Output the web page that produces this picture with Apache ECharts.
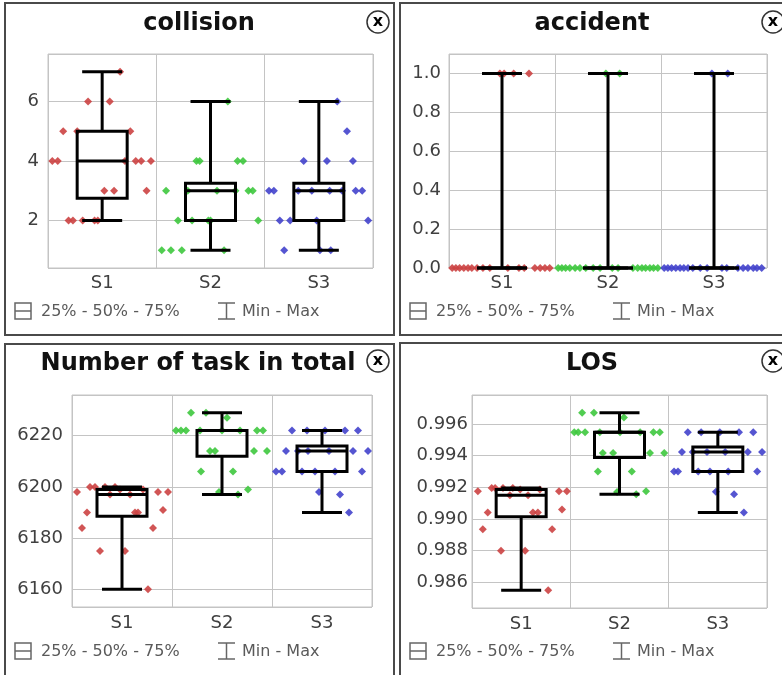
<!DOCTYPE html>
<html>
<head>
<meta charset="utf-8">
<title>Box plots</title>
<script src="https://cdn.jsdelivr.net/npm/echarts@6.0.0/dist/echarts.min.js"></script>
<style>
  html, body { margin: 0; padding: 0; background: #fff; }
  #main { width: 782px; height: 675px; }
</style>
</head>
<body>
<div id="main"></div>
<script>
const categories = ["S1", "S2", "S3"];
const colors = ["#cc4343", "#3ec83e", "#4343cc"];

// values of each run, and where the dot sits inside its column (0..1)
const collisionS1 = [7, 6, 6, 5, 5, 5, 4, 4, 4, 4, 4, 4, 3, 3, 3, 2, 2, 2, 2, 2];
const collisionS1X = [.665, .37, .57, .14, .27, .76, .04, .09, .71, .81, .86, .95, .52, .61, .91, .19, .23, .32, .43, .46];
const collisionS2 = [6, 4, 4, 4, 4, 3, 3, 3, 3, 3, 3, 2, 2, 2, 2, 2, 1, 1, 1, 1];
const collisionS2X = [.66, .37, .40, .75, .80, .09, .29, .56, .73, .85, .89, .20, .33, .48, .50, .94, .05, .135, .235, .625];
const collisionS3 = [6, 5, 4, 4, 4, 3, 3, 3, 3, 3, 3, 3, 3, 2, 2, 2, 2, 1, 1, 1];
const collisionS3X = [.67, .76, .36, .575, .815, .04, .085, .31, .435, .60, .715, .84, .90, .14, .235, .48, .955, .18, .51, .61];

const accidentS1 = [1, 1, 1, 1, 0, 0, 0, 0, 0, 0, 0, 0, 0, 0, 0, 0, 0, 0, 0, 0];
const accidentS1X = [.48, .52, .61, .755, .03, .065, .10, .14, .18, .215, .265, .32, .385, .555, .66, .71, .81, .86, .905, .95];
const accidentS2 = [1, 1, 0, 0, 0, 0, 0, 0, 0, 0, 0, 0, 0, 0, 0, 0, 0, 0, 0, 0];
const accidentS2X = [.48, .61, .03, .065, .10, .14, .19, .235, .29, .36, .425, .54, .595, .735, .78, .82, .855, .895, .93, .97];
const accidentS3 = [1, 1, 0, 0, 0, 0, 0, 0, 0, 0, 0, 0, 0, 0, 0, 0, 0, 0, 0, 0];
const accidentS3X = [.48, .63, .03, .065, .10, .14, .18, .215, .255, .30, .37, .435, .575, .62, .725, .775, .82, .87, .905, .95];

const tasksS1 = [6200, 6200, 6200, 6200, 6199, 6199, 6198, 6198, 6198, 6197, 6197, 6191, 6190, 6190, 6190, 6184, 6184, 6175, 6175, 6160];
const tasksS1X = [.18, .23, .33, .43, .48, .71, .05, .86, .96, .38, .58, .91, .15, .63, .66, .10, .81, .28, .53, .76];
const tasksS2 = [6229, 6229, 6227, 6222, 6222, 6222, 6222, 6222, 6222, 6222, 6222, 6214, 6214, 6214, 6214, 6206, 6206, 6199, 6198, 6197];
const tasksS2X = [.19, .34, .55, .04, .09, .14, .85, .91, .28, .50, .68, .38, .43, .82, .95, .29, .61, .76, .47, .66];
const tasksS3 = [6222, 6222, 6222, 6222, 6222, 6214, 6214, 6214, 6214, 6214, 6214, 6206, 6206, 6206, 6206, 6206, 6206, 6198, 6197, 6190];
const tasksS3X = [.20, .35, .53, .73, .86, .14, .26, .36, .57, .81, .96, .04, .10, .30, .43, .63, .90, .47, .68, .77];

const losS1 = [.99195, .99195, .99195, .99195, .99185, .99185, .99175, .99175, .99175, .9915, .9915, .9906, .9904, .9904, .9904, .98935, .98935, .988, .988, .9855];
const losS1X = [.20, .235, .315, .415, .49, .69, .06, .885, .965, .385, .57, .915, .16, .62, .67, .11, .815, .295, .54, .775];
const losS2 = [.9967, .9967, .9964, .99547, .99547, .99547, .99547, .99547, .99547, .99547, .99547, .99416, .99416, .99416, .99416, .993, .993, .99175, .9917, .99155];
const losS2X = [.12, .24, .545, .04, .08, .15, .845, .91, .30, .505, .71, .33, .435, .81, .955, .28, .625, .77, .475, .67];
const losS3 = [.99547, .99547, .99547, .99547, .99547, .99422, .99422, .99422, .99422, .99422, .99422, .993, .993, .993, .993, .993, .993, .99172, .99155, .9904];
const losS3X = [.195, .33, .52, .715, .86, .135, .245, .39, .575, .805, .95, .055, .095, .30, .42, .605, .90, .48, .665, .765];

const panels = [
  { title: "collision", groups: [[collisionS1, collisionS1X], [collisionS2, collisionS2X], [collisionS3, collisionS3X]], step: 2, dec: 0, split: 4 },
  { title: "accident", groups: [[accidentS1, accidentS1X], [accidentS2, accidentS2X], [accidentS3, accidentS3X]], step: 0.2, dec: 1, split: 5 },
  { title: "Number of task in total", groups: [[tasksS1, tasksS1X], [tasksS2, tasksS2X], [tasksS3, tasksS3X]], step: 20, dec: 0, split: 4 },
  { title: "LOS", groups: [[losS1, losS1X], [losS2, losS2X], [losS3, losS3X]], step: 0.002, dec: 3, split: 6 }
];

// where each panel sits on the page
const layout = [
  { ox: 0, oy: 0, grid: { left: 48, top: 54, width: 325, height: 214 }, yMargin: 9, xMargin: 6, titleX: 199, titleY: 24, frame: [5, 3, 389, 332] },
  { ox: 395, oy: 0, grid: { left: 449, top: 54, width: 318, height: 214 }, yMargin: 8, xMargin: 6, titleX: 592, titleY: 24, frame: [400, 3, 400, 332] },
  { ox: 0, oy: 340, grid: { left: 72, top: 395, width: 300, height: 212 }, yMargin: 9, xMargin: 7, titleX: 198, titleY: 364, frame: [5, 344, 389, 340] },
  { ox: 395, oy: 340, grid: { left: 472, top: 395, width: 295, height: 213 }, yMargin: 4, xMargin: 7, titleX: 592, titleY: 364, frame: [400, 343, 400, 340] }
];

const FONT = "DejaVu Sans";

function quantile(sorted, p) {
  const pos = (sorted.length - 1) * p;
  const lo = Math.floor(pos), hi = Math.ceil(pos);
  return sorted[lo] + (sorted[hi] - sorted[lo]) * (pos - lo);
}

function boxStats(values) {
  const s = values.slice().sort((a, b) => a - b);
  return [s[0], quantile(s, 0.25), quantile(s, 0.5), quantile(s, 0.75), s[s.length - 1]];
}

function renderBox(params, api) {
  const c = api.value(0);
  const pMin = api.coord([c, api.value(1)]);
  const pQ1 = api.coord([c, api.value(2)]);
  const pMed = api.coord([c, api.value(3)]);
  const pQ3 = api.coord([c, api.value(4)]);
  const pMax = api.coord([c, api.value(5)]);
  const x = pMed[0];
  const bw = 25, cw = 20;
  const style = { stroke: "#000", lineWidth: 3, fill: "transparent" };
  return {
    type: "group",
    children: [
      { type: "line", shape: { x1: x, y1: pMax[1], x2: x, y2: pQ3[1] }, style },
      { type: "line", shape: { x1: x, y1: pQ1[1], x2: x, y2: pMin[1] }, style },
      { type: "line", shape: { x1: x - cw, y1: pMax[1], x2: x + cw, y2: pMax[1] }, style },
      { type: "line", shape: { x1: x - cw, y1: pMin[1], x2: x + cw, y2: pMin[1] }, style },
      { type: "rect", shape: { x: x - bw, y: pQ3[1], width: bw * 2, height: pQ1[1] - pQ3[1] }, style },
      { type: "line", shape: { x1: x - bw, y1: pMed[1], x2: x + bw, y2: pMed[1] }, style }
    ]
  };
}

const grid = [], xAxis = [], yAxis = [], series = [], graphic = [];

panels.forEach((p, i) => {
  const L = layout[i];
  const all = [].concat(...p.groups.map(g => g[0]));
  const lo = Math.min(...all), hi = Math.max(...all);
  const pad = (hi - lo) * 0.1;

  grid.push(Object.assign({ show: true, borderColor: "#c4c4c4", borderWidth: 1, backgroundColor: "#fff" }, L.grid));

  xAxis.push({
    type: "category", gridIndex: i, data: categories,
    axisLine: { show: false }, axisTick: { show: false },
    axisLabel: { color: "#404040", fontSize: 18, fontFamily: FONT, margin: L.xMargin },
    splitLine: { show: true, lineStyle: { color: "#c4c4c4" } }
  });
  xAxis.push({ type: "value", gridIndex: i, min: 0, max: 3, show: false });

  yAxis.push({
    type: "value", gridIndex: i,
    min: Math.max(0, lo - pad), max: hi + pad, splitNumber: p.split,
    axisLine: { show: false }, axisTick: { show: false },
    axisLabel: {
      color: "#404040", fontSize: 18, fontFamily: FONT, margin: L.yMargin,
      formatter: v => Math.abs(v / p.step - Math.round(v / p.step)) < 1e-6 ? v.toFixed(p.dec) : ""
    },
    splitLine: { show: true, lineStyle: { color: "#c4c4c4" } }
  });

  p.groups.forEach((g, k) => {
    series.push({
      type: "scatter", xAxisIndex: i * 2 + 1, yAxisIndex: i,
      symbol: "diamond", symbolSize: 8, clip: false, z: 2,
      itemStyle: { color: colors[k], opacity: 0.9 },
      data: g[0].map((v, j) => [k + g[1][j], v])
    });
  });

  series.push({
    type: "custom", xAxisIndex: i * 2, yAxisIndex: i, z: 5, clip: false,
    renderItem: renderBox,
    encode: { x: 0, y: [1, 2, 3, 4, 5] },
    data: p.groups.map((g, k) => [k].concat(boxStats(g[0])))
  });

  // panel frame, title and close button
  const f = L.frame;
  graphic.push({ type: "rect", shape: { x: f[0], y: f[1], width: f[2], height: f[3] }, style: { fill: "none", stroke: "#4a4a4a", lineWidth: 2 }, z: 1 });
  graphic.push({ type: "text", x: L.titleX, y: L.titleY, style: { text: p.title, font: "bold 24px " + FONT, fill: "#111", textAlign: "center", align: "center", textVerticalAlign: "middle", verticalAlign: "middle" }, z: 10 });
  const bx = L.ox + 378, by = L.oy + 22 - (i >= 2 ? 1 : 0);
  graphic.push({ type: "circle", shape: { cx: bx, cy: by, r: 11 }, style: { fill: "#fff", stroke: "#333", lineWidth: 1.5 }, z: 11 });
  graphic.push({ type: "text", x: bx, y: by, style: { text: "x", font: "bold 16px " + FONT, fill: "#000", textAlign: "center", align: "center", textVerticalAlign: "middle", verticalAlign: "middle" }, z: 12 });

  // legend row
  const ly = L.oy + 311;
  const lg = { stroke: "#666", lineWidth: 1.5, fill: "none" };
  graphic.push({ type: "rect", shape: { x: L.ox + 15, y: ly - 8, width: 16, height: 16 }, style: lg, z: 10 });
  graphic.push({ type: "line", shape: { x1: L.ox + 15, y1: ly, x2: L.ox + 31, y2: ly }, style: lg, z: 10 });
  graphic.push({ type: "text", x: L.ox + 41, y: ly + 1, style: { text: "25% - 50% - 75%", font: "16px " + FONT, fill: "#5a5a5a", textVerticalAlign: "middle", verticalAlign: "middle" }, z: 10 });
  graphic.push({ type: "line", shape: { x1: L.ox + 218, y1: ly - 8, x2: L.ox + 235, y2: ly - 8 }, style: lg, z: 10 });
  graphic.push({ type: "line", shape: { x1: L.ox + 218, y1: ly + 8, x2: L.ox + 235, y2: ly + 8 }, style: lg, z: 10 });
  graphic.push({ type: "line", shape: { x1: L.ox + 226.5, y1: ly - 8, x2: L.ox + 226.5, y2: ly + 8 }, style: lg, z: 10 });
  graphic.push({ type: "text", x: L.ox + 242, y: ly + 1, style: { text: "Min - Max", font: "16px " + FONT, fill: "#5a5a5a", textVerticalAlign: "middle", verticalAlign: "middle" }, z: 10 });
});

const chart = echarts.init(document.getElementById("main"));
chart.setOption({
  backgroundColor: "#fff",
  animation: false,
  textStyle: { fontFamily: FONT },
  grid, xAxis, yAxis, series, graphic
});
</script>
</body>
</html>
